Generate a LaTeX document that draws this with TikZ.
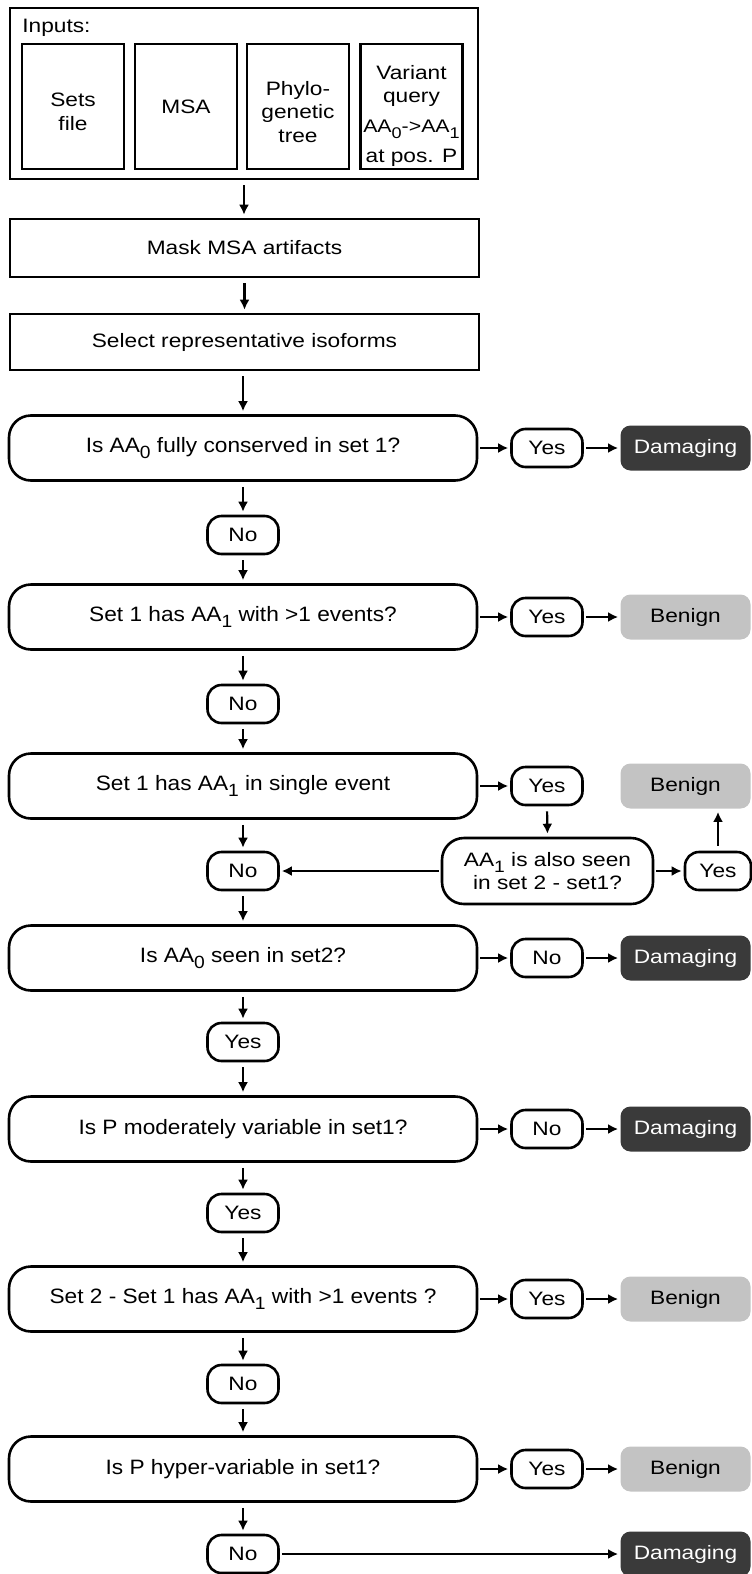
\documentclass[tikz,border=0pt]{standalone}
\usepackage{graphicx}
\usepackage{fontspec}
\setmainfont[FakeStretch=1.17]{Liberation Sans}
\newfontfamily\decfont[FakeStretch=1.09]{Liberation Sans}
\usetikzlibrary{arrows.meta}
\definecolor{dmgfill}{HTML}{3A3A3A}
\definecolor{benfill}{HTML}{C3C3C3}
% lowered index for amino-acid labels
\newcommand\lowidx[1]{\raisebox{-0.32em}{\scalebox{0.85}{#1}}}
\begin{document}
\begin{tikzpicture}[x=0.5pt,y=-0.5pt,
  font=\fontsize{9.7}{11.75}\selectfont,
  sq/.style={draw, line width=1.3pt, inner sep=0pt, align=center},
  inbox/.style={sq, minimum width=51pt, minimum height=62.5pt},
  txt/.style={inner sep=0pt, align=center},
  wide/.style={sq, minimum width=234.5pt},
  dec/.style={draw, line width=1.3pt, rounded corners=11pt, inner sep=0pt,
    minimum width=234pt, minimum height=32.5pt, align=center,
    font=\decfont\fontsize{10.4}{12}\selectfont},
  pill/.style={draw, line width=1.3pt, rounded corners=7pt, inner sep=0pt,
    minimum width=35.5pt, minimum height=19pt},
  dmg/.style={fill=dmgfill, text=white, rounded corners=5pt, inner sep=0pt,
    minimum width=65pt, minimum height=22.5pt},
  ben/.style={dmg, fill=benfill, text=black},
  arr/.style={-{Latex[length=5pt,width=5pt]}, line width=1.1pt,
    shorten <=2.5pt, shorten >=1.5pt},
  harr/.style={arr, shorten <=1pt, shorten >=1pt}]
\useasboundingbox (0,0) rectangle (751,1574);

% inputs panel
\node[sq, minimum width=234pt, minimum height=85.5pt] (inputs) at (244,93.5) {};
\node[anchor=west, inner sep=0pt] (inlabel) at (22,28) {Inputs:};
\node[inbox] (sets) at (73,106.5) {};
\node[txt] (setstxt) at (73,112) {Sets\\file};
\node[inbox] (msa) at (186,106.5) {MSA};
\node[inbox] (tree) at (298,106.5) {};
\node[txt] (treetxt) at (298,112) {Phylo-\\genetic\\tree};
\node[inbox] (query) at (411.5,106.5) {};
\node[txt] (querytxt) at (411.5,116)
  {Variant\\query\\[3.2pt]{\fontsize{9.1}{11}\selectfont AA\lowidx{0}->AA\lowidx{1}}\\[3.2pt]at pos. P};

% preprocessing
\node[wide, minimum height=29pt] (mask) at (244.5,248) {Mask MSA artifacts};
\node[wide, minimum height=28pt] (select) at (244.5,342) {Select representative isoforms};

% decision chain
\node[dec] (d1) at (243,448) {Is AA\lowidx{0} fully conserved in set 1?};
\node[pill] (c1) at (243,535) {No};
\node[dec] (d2) at (243,617) {Set 1 has AA\lowidx{1} with >1 events?};
\node[pill] (c2) at (243,704) {No};
\node[dec] (d3) at (243,786) {Set 1 has AA\lowidx{1} in single event};
\node[pill] (c3) at (243,871) {No};
\node[dec] (d4) at (243,958) {Is AA\lowidx{0} seen in set2?};
\node[pill] (c4) at (243,1042) {Yes};
\node[dec] (d5) at (243,1129) {Is P moderately variable in set1?};
\node[pill] (c5) at (243,1213) {Yes};
\node[dec] (d6) at (243,1299) {Set 2 - Set 1 has AA\lowidx{1} with >1 events ?};
\node[pill] (c6) at (243,1384) {No};
\node[dec] (d7) at (243,1469) {Is P hyper-variable in set1?};
\node[pill] (c7) at (243,1554) {No};

% side answers and outcomes
\node[pill] (r1) at (547,448) {Yes};
\node[dmg] (o1) at (685.5,448) {Damaging};
\node[pill] (r2) at (547,617) {Yes};
\node[ben] (o2) at (685.5,617) {Benign};
\node[pill] (r3) at (547,786) {Yes};
\node[ben] (o3) at (685.5,786) {Benign};
\node[dec, minimum width=105.5pt, minimum height=33pt,
  font=\fontsize{9.7}{11.5}\selectfont] (s3) at (547.5,871)
  {AA\lowidx{1} is also seen\\in set 2 - set1?};
\node[pill, minimum width=33pt] (y3) at (718,871) {Yes};
\node[pill] (r4) at (547,958) {No};
\node[dmg] (o4) at (685.5,958) {Damaging};
\node[pill] (r5) at (547,1129) {No};
\node[dmg] (o5) at (685.5,1129) {Damaging};
\node[pill] (r6) at (547,1299) {Yes};
\node[ben] (o6) at (685.5,1299) {Benign};
\node[pill] (r7) at (547,1469) {Yes};
\node[ben] (o7) at (685.5,1469) {Benign};
\node[dmg] (o8) at (685.5,1554) {Damaging};

% vertical flow
\draw[arr] (inputs.south) -- (inputs.south |- mask.north);
\draw[arr] (mask.south) -- (mask.south |- select.north);
\draw[arr] (d1.south |- select.south) -- (d1.north);
\draw[arr] (d1.south) -- (c1.north);
\draw[arr] (c1.south) -- (d2.north);
\draw[arr] (d2.south) -- (c2.north);
\draw[arr] (c2.south) -- (d3.north);
\draw[arr] (d3.south) -- (c3.north);
\draw[arr] (c3.south) -- (d4.north);
\draw[arr] (d4.south) -- (c4.north);
\draw[arr] (c4.south) -- (d5.north);
\draw[arr] (d5.south) -- (c5.north);
\draw[arr] (c5.south) -- (d6.north);
\draw[arr] (d6.south) -- (c6.north);
\draw[arr] (c6.south) -- (d7.north);
\draw[arr] (d7.south) -- (c7.north);

% side branches
\draw[harr] (d1.east) -- (r1.west);
\draw[harr] (r1.east) -- (o1.west);
\draw[harr] (d2.east) -- (r2.west);
\draw[harr] (r2.east) -- (o2.west);
\draw[harr] (d3.east) -- (r3.west);
\draw[arr] (r3.south) -- (s3.north);
\draw[harr] (s3.east) -- (y3.west);
\draw[arr] (y3.north) -- (y3.north |- o3.south);
\draw[harr] (s3.west) -- (c3.east);
\draw[harr] (d4.east) -- (r4.west);
\draw[harr] (r4.east) -- (o4.west);
\draw[harr] (d5.east) -- (r5.west);
\draw[harr] (r5.east) -- (o5.west);
\draw[harr] (d6.east) -- (r6.west);
\draw[harr] (r6.east) -- (o6.west);
\draw[harr] (d7.east) -- (r7.west);
\draw[harr] (r7.east) -- (o7.west);
\draw[harr] (c7.east) -- (o8.west);
\end{tikzpicture}
\end{document}
